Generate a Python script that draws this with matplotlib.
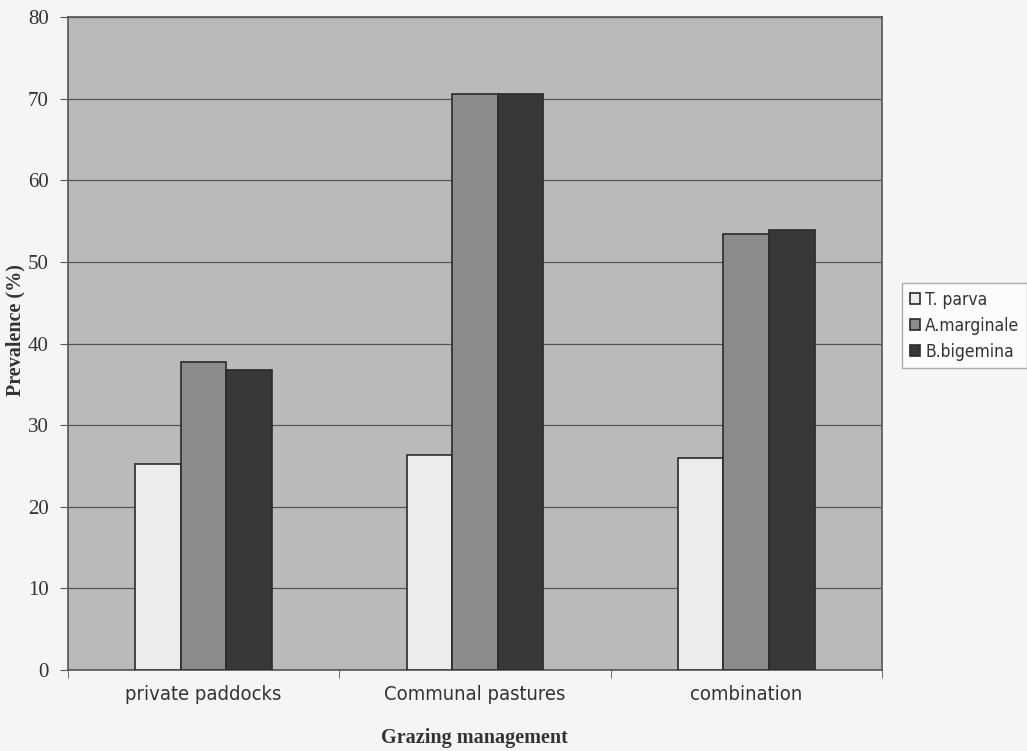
import numpy as np
import matplotlib.pyplot as plt

# prevalence of tick-borne parasites by grazing system
categories = ["private paddocks", "Communal pastures", "combination"]
species = ["T. parva", "A.marginale", "B.bigemina"]
t_parva = [25.3, 26.4, 26.0]
a_marginale = [37.8, 70.6, 53.4]
b_bigemina = [36.8, 70.6, 53.9]
yticks = [0, 10, 20, 30, 40, 50, 60, 70, 80]

series = [t_parva, a_marginale, b_bigemina]
colors = ["#ececec", "#8c8c8c", "#383838"]

narrow = {"family": ["DejaVu Sans"], "stretch": "condensed"}
serif = ["Liberation Serif", "DejaVu Serif"]

fig = plt.figure(figsize=(10.27, 7.51), dpi=100)
fig.patch.set_facecolor("#f5f5f5")
ax = fig.add_axes([0.0662, 0.108, 0.7925, 0.869])
ax.set_facecolor("#bababa")

x = np.arange(len(categories))
w = 0.168
for i, (vals, c) in enumerate(zip(series, colors)):
    ax.bar(x + (i - 1) * w, vals, w, color=c, edgecolor="#2a2a2a",
           linewidth=1.2, label=species[i], zorder=3)

ax.set_xlim(-0.5, 2.5)
ax.set_ylim(0, 80)
ax.set_yticks(yticks)
ax.set_yticklabels([str(v) for v in yticks], family=serif, fontsize=15,
                   color="#333333")
ax.yaxis.grid(True, color="#555555", linewidth=0.9, zorder=1)

ax.set_xticks(x)
ax.set_xticklabels(categories, fontsize=14.5, color="#333333", **narrow)
ax.set_xticks([-0.5, 0.5, 1.5, 2.5], minor=True)
ax.tick_params(axis="x", which="major", length=0, pad=11)
ax.tick_params(axis="x", which="minor", length=6, color="#555555")
ax.tick_params(axis="y", length=6, color="#555555", pad=8)

for s in ax.spines.values():
    s.set_color("#555555")
    s.set_linewidth(1.2)

ax.set_ylabel("Prevalence (%)", family=serif, fontweight="bold",
              fontsize=14.5, color="#333333")
ax.yaxis.set_label_coords(-0.052, 0.52)
ax.set_xlabel("Grazing management", family=serif, fontweight="bold",
              fontsize=14.5, color="#333333", labelpad=17)

leg = fig.legend(loc="upper left", bbox_to_anchor=(0.878, 0.623),
                 borderaxespad=0,
                 prop={"family": "DejaVu Sans", "stretch": "condensed",
                       "size": 12.5},
                 frameon=True, fancybox=False, borderpad=0.45,
                 handlelength=0.6, handleheight=0.6, handletextpad=0.3,
                 labelspacing=0.45)
leg.get_frame().set_edgecolor("#999999")
leg.get_frame().set_facecolor("white")
for t in leg.get_texts():
    t.set_color("#333333")

fig.savefig("out.png", dpi=100)
